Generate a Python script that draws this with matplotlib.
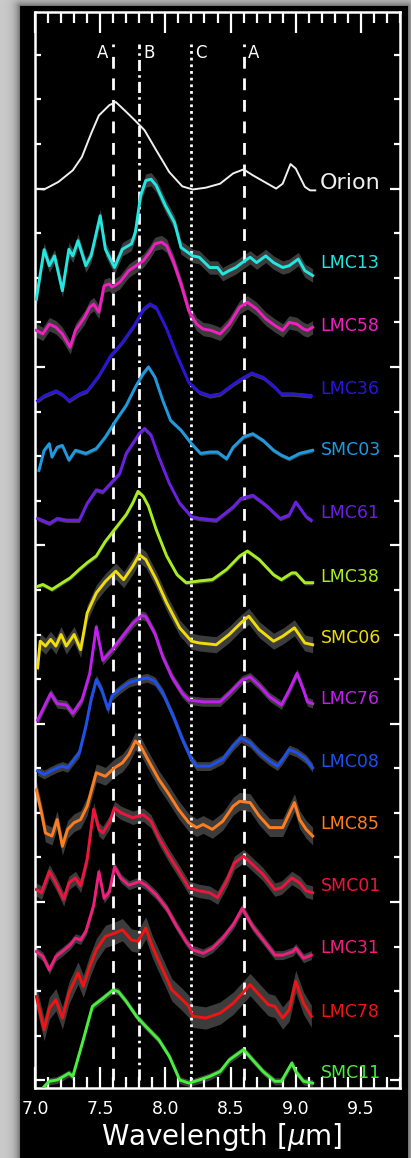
import numpy as np
import matplotlib
matplotlib.use("Agg")
import matplotlib.pyplot as plt
from matplotlib.ticker import MultipleLocator, FormatStrFormatter

plt.rcParams['lines.scale_dashes'] = False

# stacked 7-9 um PAH profiles, normalised, each shifted by its offset
names = ['Orion', 'LMC13', 'LMC58', 'LMC36', 'SMC03', 'LMC61', 'LMC38', 'SMC06',
         'LMC76', 'LMC08', 'LMC85', 'SMC01', 'LMC31', 'LMC78', 'SMC11']
offsets = [20.12, 18.33, 16.92, 15.50, 14.13, 12.72, 11.30, 9.93,
           8.55, 7.13, 5.74, 4.35, 2.97, 1.54, 0.17]
colors = ['#f0f0f0', '#22e6e0', '#f21fc0', '#2a14dc', '#1e9be0', '#6a1ee6', '#a8ee1e', '#f0dc0a',
          '#c21ef0', '#1e50f0', '#ff7d1e', '#f0143c', '#f01e7d', '#f01414', '#46f03c']
# typical 1-sigma uncertainty of each profile
errors = [0.0, 0.15, 0.15, 0.05, 0.05, 0.05, 0.05, 0.18,
          0.10, 0.10, 0.20, 0.15, 0.10, 0.25, 0.08]

orion_wave = [7.00, 7.07, 7.18, 7.29, 7.36, 7.43, 7.49, 7.57, 7.62, 7.70, 7.77, 7.84, 7.93, 8.03, 8.13,
              8.21, 8.31, 8.42, 8.52, 8.60, 8.67, 8.76, 8.85, 8.90, 8.96, 9.00, 9.07, 9.11, 9.15]
orion_flux = [-0.12, -0.14, 0.03, 0.29, 0.59, 1.11, 1.52, 1.75, 1.82, 1.60, 1.40, 1.19, 0.74, 0.25, -0.07,
              -0.14, -0.10, -0.01, 0.22, 0.31, 0.18, 0.03, -0.12, -0.01, 0.43, 0.33, -0.08, -0.16, -0.16]

lmc13_wave = [7.01, 7.07, 7.11, 7.15, 7.21, 7.26, 7.29, 7.33, 7.39, 7.43, 7.50, 7.54, 7.61, 7.67, 7.74,
              7.77, 7.81, 7.85, 7.89, 7.93, 8.00, 8.07, 8.12, 8.21, 8.26, 8.34, 8.40, 8.44, 8.49, 8.54,
              8.59, 8.65, 8.70, 8.77, 8.83, 8.90, 8.95, 9.02, 9.07, 9.13]
lmc13_flux = [-0.81, 0.30, -0.06, 0.16, -0.62, 0.31, 0.16, 0.50, -0.06, 0.16, 1.06, 0.31, -0.10, 0.31, 0.43,
              0.69, 1.51, 1.85, 1.88, 1.74, 1.29, 0.91, 0.35, 0.16, 0.13, -0.10, -0.10, -0.25, -0.17, -0.10,
              0.01, 0.13, 0.01, 0.16, 0.01, -0.10, -0.06, 0.09, -0.17, -0.28]

lmc58_wave = [7.01, 7.06, 7.11, 7.16, 7.21, 7.27, 7.31, 7.38, 7.42, 7.45, 7.49, 7.53, 7.57, 7.59, 7.65,
              7.72, 7.83, 7.88, 7.92, 7.97, 8.01, 8.06, 8.12, 8.18, 8.24, 8.29, 8.35, 8.42, 8.49, 8.57,
              8.63, 8.70, 8.77, 8.84, 8.90, 8.95, 9.01, 9.06, 9.09, 9.13]
lmc58_flux = [-0.10, -0.18, 0.04, -0.03, -0.18, -0.48, -0.10, 0.19, 0.42, 0.49, 0.31, 0.90, 0.94, 0.87, 0.98,
              1.24, 1.46, 1.65, 1.84, 1.88, 1.80, 1.46, 0.94, 0.34, 0.04, -0.07, -0.10, -0.18, 0.04, 0.42,
              0.53, 0.38, 0.16, 0.01, -0.10, 0.08, 0.04, -0.07, -0.10, -0.03]

lmc36_wave = [7.02, 7.07, 7.16, 7.21, 7.26, 7.34, 7.40, 7.49, 7.58, 7.67, 7.76, 7.83, 7.88, 7.93, 8.01,
              8.09, 8.18, 8.26, 8.34, 8.42, 8.52, 8.60, 8.66, 8.75, 8.83, 8.89, 8.98, 9.12]
lmc36_flux = [-0.26, -0.15, -0.04, -0.12, -0.26, -0.11, -0.04, 0.30, 0.75, 1.05, 1.42, 1.79, 1.91, 1.83, 1.35,
              0.75, 0.15, -0.07, -0.15, -0.11, 0.11, 0.26, 0.36, 0.26, 0.07, -0.11, -0.11, -0.15]

smc03_wave = [7.03, 7.07, 7.11, 7.13, 7.17, 7.21, 7.26, 7.31, 7.39, 7.47, 7.54, 7.62, 7.70, 7.77, 7.83,
              7.87, 7.92, 7.98, 8.04, 8.12, 8.20, 8.27, 8.34, 8.40, 8.47, 8.52, 8.60, 8.67, 8.75, 8.83,
              8.89, 8.95, 9.03, 9.13]
smc03_flux = [-0.45, 0.00, 0.15, -0.15, 0.07, 0.11, -0.22, 0.00, -0.07, 0.04, 0.30, 0.67, 1.01, 1.42, 1.72,
              1.87, 1.64, 1.12, 0.67, 0.45, 0.15, -0.07, -0.04, -0.04, -0.19, 0.07, 0.30, 0.37, 0.22, 0.00,
              -0.11, -0.19, -0.07, 0.00]

lmc61_wave = [7.02, 7.11, 7.17, 7.24, 7.34, 7.40, 7.47, 7.52, 7.58, 7.65, 7.70, 7.80, 7.84, 7.89, 7.95,
              8.03, 8.11, 8.18, 8.20, 8.26, 8.39, 8.52, 8.58, 8.67, 8.77, 8.88, 8.95, 9.00, 9.08, 9.12]
lmc61_flux = [-0.12, -0.23, -0.12, -0.16, -0.16, 0.22, 0.52, 0.48, 0.67, 0.89, 1.34, 1.79, 1.90, 1.75, 1.26,
              0.67, 0.22, -0.01, -0.08, -0.12, -0.16, 0.14, 0.33, 0.40, 0.18, -0.12, -0.04, 0.25, -0.08, -0.16]

lmc38_wave = [7.02, 7.06, 7.13, 7.21, 7.27, 7.34, 7.40, 7.47, 7.54, 7.62, 7.70, 7.75, 7.79, 7.83, 7.87,
              7.93, 8.01, 8.09, 8.16, 8.26, 8.36, 8.47, 8.57, 8.63, 8.72, 8.83, 8.89, 8.97, 9.00, 9.07, 9.13]
lmc38_flux = [-0.22, -0.18, -0.29, -0.14, -0.03, 0.16, 0.31, 0.46, 0.79, 1.09, 1.39, 1.65, 1.91, 1.80, 1.58,
              1.05, 0.46, 0.04, -0.14, -0.10, -0.07, 0.16, 0.46, 0.57, 0.38, 0.04, -0.07, 0.08, 0.08, -0.14, -0.14]

smc06_wave = [7.02, 7.04, 7.08, 7.12, 7.16, 7.20, 7.24, 7.30, 7.35, 7.40, 7.47, 7.54, 7.62, 7.68, 7.75,
              7.80, 7.85, 7.93, 8.01, 8.11, 8.20, 8.26, 8.39, 8.49, 8.58, 8.64, 8.72, 8.83, 8.90, 8.99,
              9.07, 9.13]
smc06_flux = [-0.68, -0.08, -0.19, -0.04, -0.19, 0.07, -0.19, 0.07, -0.27, 0.55, 1.00, 1.26, 1.49, 1.30, 1.60,
              1.86, 1.75, 1.30, 0.78, 0.22, -0.08, -0.12, -0.16, 0.07, 0.33, 0.48, 0.18, -0.08, 0.03, 0.22,
              -0.12, -0.16]

lmc76_wave = [7.02, 7.07, 7.12, 7.17, 7.24, 7.29, 7.36, 7.42, 7.47, 7.52, 7.59, 7.67, 7.75, 7.82, 7.85,
              7.92, 7.98, 8.05, 8.13, 8.18, 8.29, 8.42, 8.49, 8.59, 8.65, 8.72, 8.80, 8.89, 8.95, 9.01,
              9.06, 9.09, 9.13]
lmc76_flux = [-0.47, -0.17, 0.13, -0.10, -0.13, -0.32, -0.02, 0.58, 1.62, 0.87, 1.10, 1.40, 1.70, 1.88, 1.85,
              1.47, 0.95, 0.50, 0.13, -0.02, -0.06, -0.06, 0.13, 0.43, 0.50, 0.31, 0.05, -0.13, 0.20, 0.58,
              0.20, -0.06, -0.10]

lmc08_wave = [7.02, 7.07, 7.12, 7.17, 7.21, 7.25, 7.29, 7.34, 7.39, 7.43, 7.47, 7.51, 7.56, 7.59, 7.65,
              7.72, 7.80, 7.86, 7.92, 7.98, 8.06, 8.13, 8.20, 8.24, 8.34, 8.44, 8.52, 8.58, 8.65, 8.72,
              8.80, 8.86, 8.90, 8.95, 9.01, 9.08, 9.13]
lmc08_flux = [-0.19, -0.27, -0.19, -0.12, -0.08, -0.12, 0.03, 0.22, 0.81, 1.41, 1.86, 1.64, 1.19, 1.49, 1.64,
              1.79, 1.86, 1.90, 1.82, 1.56, 1.04, 0.52, 0.07, -0.08, -0.08, 0.07, 0.37, 0.55, 0.44, 0.22,
              0.03, -0.08, 0.07, 0.29, 0.22, 0.07, -0.12]

lmc85_wave = [7.01, 7.05, 7.08, 7.13, 7.17, 7.21, 7.25, 7.30, 7.35, 7.40, 7.47, 7.54, 7.61, 7.67, 7.72,
              7.77, 7.81, 7.88, 7.95, 8.02, 8.10, 8.18, 8.24, 8.29, 8.36, 8.44, 8.52, 8.57, 8.65, 8.72,
              8.80, 8.90, 8.99, 9.03, 9.08, 9.13]
lmc85_flux = [0.78, 0.26, -0.19, -0.26, 0.11, -0.49, -0.11, 0.04, 0.11, 0.41, 1.16, 1.08, 1.27, 1.38, 1.57,
              1.87, 1.76, 1.38, 1.01, 0.71, 0.34, 0.04, -0.07, 0.00, -0.11, 0.07, 0.41, 0.52, 0.49, 0.19,
              -0.07, -0.07, 0.49, 0.11, -0.11, -0.26]

smc01_wave = [7.01, 7.05, 7.11, 7.16, 7.22, 7.26, 7.31, 7.35, 7.40, 7.45, 7.49, 7.52, 7.57, 7.61, 7.66,
              7.75, 7.83, 7.89, 7.95, 8.03, 8.11, 8.18, 8.26, 8.34, 8.40, 8.47, 8.53, 8.60, 8.67, 8.75,
              8.84, 8.89, 8.97, 9.03, 9.08, 9.13]
smc01_flux = [-0.07, -0.14, 0.34, 0.08, -0.29, 0.08, 0.19, 0.01, 0.61, 1.73, 1.28, 1.20, 1.43, 1.76, 1.65,
              1.54, 1.61, 1.46, 1.09, 0.68, 0.31, -0.03, -0.10, -0.14, -0.25, 0.12, 0.53, 0.68, 0.49, 0.27,
              -0.07, -0.03, 0.19, 0.08, -0.10, -0.14]

lmc31_wave = [7.01, 7.06, 7.11, 7.16, 7.21, 7.27, 7.31, 7.35, 7.39, 7.45, 7.49, 7.53, 7.57, 7.61, 7.66,
              7.72, 7.80, 7.85, 7.93, 8.01, 8.08, 8.16, 8.21, 8.29, 8.36, 8.44, 8.52, 8.59, 8.67, 8.75,
              8.84, 8.90, 8.98, 9.00, 9.06, 9.12]
lmc31_flux = [-0.08, -0.19, -0.49, -0.19, -0.08, 0.07, 0.22, 0.18, 0.37, 0.96, 1.71, 1.11, 1.26, 1.82, 1.56,
              1.41, 1.49, 1.41, 1.19, 0.89, 0.52, 0.14, -0.04, -0.12, -0.01, 0.22, 0.52, 0.89, 0.48, 0.18,
              -0.16, -0.16, -0.08, 0.00, -0.23, -0.16]

lmc78_wave = [7.01, 7.07, 7.11, 7.16, 7.21, 7.26, 7.33, 7.37, 7.42, 7.47, 7.54, 7.61, 7.67, 7.74, 7.79,
              7.85, 7.90, 7.98, 8.05, 8.13, 8.18, 8.21, 8.31, 8.42, 8.52, 8.58, 8.65, 8.72, 8.79, 8.84,
              8.90, 8.95, 9.00, 9.06, 9.12]
lmc78_flux = [0.34, -0.40, 0.08, 0.27, -0.14, 0.42, 0.87, 0.57, 1.02, 1.39, 1.69, 1.76, 1.84, 1.61, 1.58,
              1.88, 1.46, 0.94, 0.49, 0.27, 0.12, -0.10, -0.14, -0.03, 0.19, 0.38, 0.61, 0.38, 0.16, 0.12,
              -0.14, 0.04, 0.68, 0.19, -0.10]

smc11_wave = [7.06, 7.11, 7.17, 7.22, 7.26, 7.29, 7.37, 7.44, 7.52, 7.60, 7.64, 7.70, 7.78, 7.85, 7.95,
              8.03, 8.11, 8.18, 8.26, 8.34, 8.42, 8.49, 8.60, 8.67, 8.75, 8.84, 8.89, 8.97, 9.00, 9.06, 9.13]
smc11_flux = [-0.34, -0.19, -0.16, -0.08, -0.01, -0.08, 0.74, 1.49, 1.67, 1.86, 1.82, 1.60, 1.26, 1.04, 0.74,
              0.37, -0.16, -0.23, -0.16, -0.08, 0.03, 0.29, 0.52, 0.29, 0.03, -0.19, -0.19, 0.22, 0.03, -0.19, -0.23]

waves = [orion_wave, lmc13_wave, lmc58_wave, lmc36_wave, smc03_wave, lmc61_wave, lmc38_wave, smc06_wave,
         lmc76_wave, lmc08_wave, lmc85_wave, smc01_wave, lmc31_wave, lmc78_wave, smc11_wave]
fluxes = [orion_flux, lmc13_flux, lmc58_flux, lmc36_flux, smc03_flux, lmc61_flux, lmc38_flux, smc06_flux,
          lmc76_flux, lmc08_flux, lmc85_flux, smc01_flux, lmc31_flux, lmc78_flux, smc11_flux]

# band positions (A = 7.6 / 8.6 um, B = 7.8 um, C = 8.2 um)
band_pos = [7.6, 7.8, 8.2, 8.6]
band_text = ['A', 'B', 'C', 'A']

W, H = 411, 1158
fig = plt.figure(figsize=(W / 100, H / 100), dpi=100)

# grey page with a soft shadow around the black panel
bg = fig.add_axes([0, 0, 1, 1], zorder=0)
yy, xx = np.mgrid[0:H, 0:W]
px0, px1, py0 = 20, 406, 6
dx = np.maximum(np.maximum(px0 - xx, xx - px1), 0)
dy = np.maximum(py0 - yy, 0)
dist = np.hypot(dx, dy)
shade = 0.80 - 0.40 * np.exp(-dist / 5.0)
shade[(xx >= px0) & (xx <= px1) & (yy >= py0)] = 0.0
bg.imshow(shade, cmap='gray', vmin=0, vmax=1, aspect='auto', interpolation='bilinear')
bg.axis('off')

ax = fig.add_axes([35 / W, 1 - 1088 / H, 365 / W, 1076 / H], zorder=1)
ax.set_facecolor('black')
ax.set_xlim(7.0, 9.8)
ax.set_ylim(-0.17, 23.96)

for sp in ax.spines.values():
    sp.set_color('white')
    sp.set_linewidth(1.8)

ax.xaxis.set_major_locator(MultipleLocator(0.5))
ax.xaxis.set_minor_locator(MultipleLocator(0.1))
ax.xaxis.set_major_formatter(FormatStrFormatter('%.1f'))
ax.yaxis.set_major_locator(MultipleLocator(4))
ax.yaxis.set_minor_locator(MultipleLocator(1))
ax.tick_params(which='both', direction='in', colors='white', top=True, right=True,
               labelleft=False, width=1.6)
ax.tick_params(axis='x', which='major', length=15, labelsize=12.5, pad=9)
ax.tick_params(axis='x', which='minor', length=8)
ax.tick_params(axis='y', which='major', length=7)
ax.tick_params(axis='y', which='minor', length=4)

# feature markers
styles = [(0, (8.5, 7.0)), (0, (8.0, 3.0, 1.8, 3.0)), (0, (2.0, 2.8)), (0, (8.5, 7.0))]
for xpos, ls in zip(band_pos, styles):
    ax.plot([xpos, xpos], [0.0, 23.25], color='white', lw=2.0, linestyle=ls, zorder=2)
ax.text(7.565, 23.05, band_text[0], color='white', fontsize=12, ha='right', va='center')
for xpos, lab in zip(band_pos[1:], band_text[1:]):
    ax.text(xpos + 0.03, 23.05, lab, color='white', fontsize=12, ha='left', va='center')

# spectra with their uncertainty envelopes
for name, off, col, err, w, f in zip(names, offsets, colors, errors, waves, fluxes):
    w = np.asarray(w)
    y = np.asarray(f) + off
    if err > 0:
        ax.fill_between(w, y - err, y + err, color='#3c3c3c', lw=0, zorder=1)
    if name == 'Orion':
        ax.plot(w, y, color=col, lw=1.4, zorder=3)
        ax.text(9.185, off, name, color=col, fontsize=16, ha='left', va='center')
    else:
        ax.plot(w, y, color=col, lw=2.1, zorder=3)
        ax.text(9.19, off, name, color=col, fontsize=12.5, ha='left', va='center')

fig.text(222 / W, 1 - 1137 / H, r'Wavelength [$\mu$m]', color='white', fontsize=20,
         ha='center', va='center')

fig.savefig('out.png', dpi=100, facecolor=fig.get_facecolor())
